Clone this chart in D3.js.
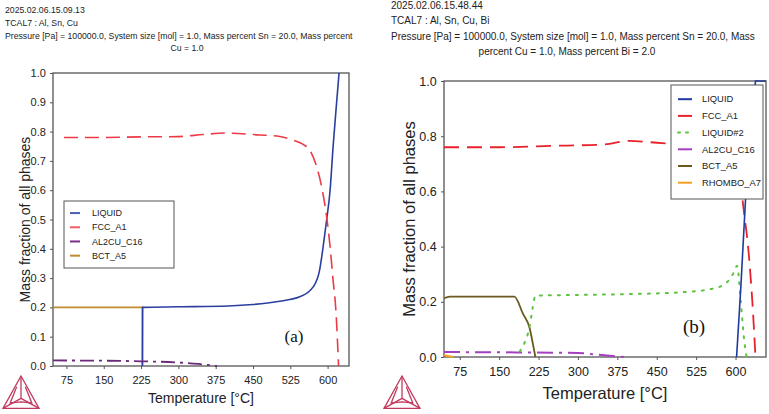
<!DOCTYPE html>
<html>
<head>
<meta charset="utf-8">
<script src="https://cdn.jsdelivr.net/npm/d3@7"></script>
<style>
body { margin:0; background:#fff; }
svg { font-family: Arial, "Liberation Sans", sans-serif; }
.axis path, .axis line { stroke:#555; }
.axis text { fill:#222; }
</style>
</head>
<body>
<svg id="chart" width="769" height="414"></svg>
<script>
/* DATA (a) : Al, Sn, Cu */
const ticksA_x = [75, 150, 225, 300, 375, 450, 525, 600];
const ticksA_y = [0, 0.1, 0.2, 0.3, 0.4, 0.5, 0.6, 0.7, 0.8, 0.9, 1.0];

const liqA_T = [227.6, 228, 300, 400, 450, 500, 544, 571, 584, 591, 598, 605, 611, 618, 623];
const liqA_f = [0, 0.2, 0.202, 0.205, 0.21, 0.22, 0.236, 0.27, 0.328, 0.407, 0.498, 0.6, 0.748, 0.897, 1.0];
const fccA_T = [70, 150, 225, 300, 350, 394, 450, 504, 531, 550, 564, 578, 588, 598, 605, 611, 617, 622];
const fccA_f = [0.78, 0.78, 0.782, 0.783, 0.79, 0.795, 0.79, 0.783, 0.771, 0.757, 0.737, 0.68, 0.612, 0.51, 0.407, 0.293, 0.18, 0];
const al2cuA_T = [48, 150, 225, 300, 340, 378];
const al2cuA_f = [0.019, 0.018, 0.016, 0.012, 0.007, 0];
const bctA_T = [48, 228, 228];
const bctA_f = [0.2, 0.2, 0];

/* DATA (b) : Al, Sn, Cu, Bi */
const ticksB_x = [75, 150, 225, 300, 375, 450, 525, 600];
const ticksB_y = [0, 0.2, 0.4, 0.6, 0.8, 1.0];

const liqB_T = [602, 610, 619, 630, 638, 658];
const liqB_f = [0, 0.25, 0.57, 0.85, 1.0, 1.0];
const fccB_T = [45, 150, 250, 350, 397, 460, 520, 570, 598, 606, 614, 625, 632, 638];
const fccB_f = [0.76, 0.76, 0.765, 0.77, 0.783, 0.775, 0.77, 0.768, 0.76, 0.7, 0.558, 0.377, 0.2, 0];
const liq2B_T = [189, 198, 208, 214, 219, 300, 400, 500, 550, 580, 595, 603, 610, 616, 621];
const liq2B_f = [0.02, 0.05, 0.11, 0.18, 0.222, 0.225, 0.228, 0.235, 0.245, 0.265, 0.3, 0.33, 0.2, 0.07, 0];
const al2cuB_T = [45, 150, 220, 300, 340, 388];
const al2cuB_f = [0.018, 0.017, 0.016, 0.0145, 0.008, 0];
const bctB_T = [45, 56, 179, 195, 208, 214, 219];
const bctB_f = [0.213, 0.219, 0.219, 0.158, 0.105, 0.05, 0];
const rhoB_T = [45, 55, 62];
const rhoB_f = [0.006, 0.003, 0];

const svg = d3.select("#chart");

/*PANELS
------------------------------------------------------
*/
const panels = [
  {
    x0: 53, x1: 349, y0: 366, y1: 73, dom: [48, 643],
    xt: ticksA_x, yt: ticksA_y, yfmt: d3.format(".1f"),
    tickFont: 11, labFont: 14, ylabX: 25, xlabY: 403,
    head: { x: 5, ys: [13, 26, 39, 51], size: 8.7,
      lines: ["2025.02.06.15.09.13", "TCAL7 : Al, Sn, Cu",
        "Pressure [Pa] = 100000.0, System size [mol] = 1.0, Mass percent Sn = 20.0, Mass percent"],
      last: "Cu = 1.0", lastX: 187 },
    series: [
      { T: liqA_T, f: liqA_f, c: "#2b3f9e", w: 1.6, dash: null, name: "LIQUID", lc: "#4a5fb5", curve: d3.curveMonotoneX },
      { T: fccA_T, f: fccA_f, c: "#ec3b47", w: 1.6, dash: "14,7", name: "FCC_A1", lc: "#f0606a", curve: d3.curveMonotoneX },
      { T: al2cuA_T, f: al2cuA_f, c: "#6b2a7a", w: 1.8, dash: "14,5,3,5", name: "AL2CU_C16", lc: "#7a2d8a", curve: d3.curveMonotoneX },
      { T: bctA_T, f: bctA_f, c: "#c08a30", w: 1.6, dash: null, name: "BCT_A5", lc: "#c08a30", curve: d3.curveLinear }
    ],
    order: [3, 0, 1, 2],
    legend: { x: 64, y: 201, w: 110, h: 67, step: 14.2, font: 9, l0: 70, l1: 80, tx: 92 },
    tag: { text: "(a)", x: 294, y: 342, size: 17 },
    logo: { x: 21, y: 376, s: 36 }
  },
  {
    x0: 444, x1: 766, y0: 357, y1: 81, dom: [45, 658],
    xt: ticksB_x, yt: ticksB_y, yfmt: d3.format(".1f"),
    tickFont: 12.5, labFont: 16.5, ylabX: 409, xlabY: 399,
    head: { x: 391, ys: [9, 24, 40, 55], size: 10,
      lines: ["2025.02.06.15.48.44", "TCAL7 : Al, Sn, Cu, Bi",
        "Pressure [Pa] = 100000.0, System size [mol] = 1.0, Mass percent Sn = 20.0, Mass"],
      last: "percent Cu = 1.0, Mass percent Bi = 2.0", lastX: 567 },
    series: [
      { T: liqB_T, f: liqB_f, c: "#1f3a9e", w: 1.6, dash: null, name: "LIQUID", lc: "#1f3a9e", curve: d3.curveLinear },
      { T: fccB_T, f: fccB_f, c: "#e8222c", w: 1.8, dash: "15,8", name: "FCC_A1", lc: "#e8222c", curve: d3.curveMonotoneX },
      { T: liq2B_T, f: liq2B_f, c: "#5cc43c", w: 2, dash: "2,7", name: "LIQUID#2", lc: "#5cc43c", curve: d3.curveMonotoneX },
      { T: al2cuB_T, f: al2cuB_f, c: "#a43fc0", w: 2, dash: "16,6,3,6", name: "AL2CU_C16", lc: "#a43fc0", curve: d3.curveMonotoneX },
      { T: bctB_T, f: bctB_f, c: "#6b5a1e", w: 1.8, dash: null, name: "BCT_A5", lc: "#6b5a1e", curve: d3.curveMonotoneX },
      { T: rhoB_T, f: rhoB_f, c: "#f5a020", w: 2, dash: null, name: "RHOMBO_A7", lc: "#f5a020", curve: d3.curveLinear }
    ],
    order: [5, 4, 3, 2, 1, 0],
    legend: { x: 671, y: 85, w: 92, h: 114, step: 16.7, font: 9.4, l0: 678, l1: 692, tx: 702 },
    tag: { text: "(b)", x: 694, y: 333, size: 19 },
    logo: { x: 402, y: 376, s: 36 }
  }
];

panels.forEach(function(p){
  const x = d3.scaleLinear().domain(p.dom).range([p.x0, p.x1]);
  const y = d3.scaleLinear().domain([0, 1]).range([p.y0, p.y1]);

  // header texts
  const h = svg.append("g").attr("font-size", p.head.size).attr("fill", "#222");
  p.head.lines.forEach(function(t, i){
    h.append("text").attr("x", p.head.x).attr("y", p.head.ys[i]).text(t);
  });
  h.append("text").attr("x", p.head.lastX).attr("y", p.head.ys[3])
    .attr("text-anchor", "middle").text(p.head.last);

  // axes
  svg.append("g").attr("class", "axis")
    .attr("transform", "translate(0," + p.y0 + ")")
    .call(d3.axisBottom(x).tickValues(p.xt).tickSize(3).tickSizeOuter(0))
    .call(g => g.select(".domain").remove())
    .selectAll("text").attr("font-size", p.tickFont).attr("dy", "1.05em");

  svg.append("g").attr("class", "axis")
    .attr("transform", "translate(" + p.x0 + ",0)")
    .call(d3.axisLeft(y).tickValues(p.yt).tickFormat(p.yfmt).tickSize(3).tickSizeOuter(0))
    .call(g => g.select(".domain").remove())
    .selectAll("text").attr("font-size", p.tickFont).attr("dx", "-0.1em");

  // frame
  svg.append("rect")
    .attr("x", p.x0).attr("y", p.y1)
    .attr("width", p.x1 - p.x0).attr("height", p.y0 - p.y1)
    .attr("fill", "none").attr("stroke", "#555").attr("stroke-width", 1.3);

  // labels
  svg.append("text")
    .attr("x", (p.x0 + p.x1) / 2).attr("y", p.xlabY)
    .attr("text-anchor", "middle").attr("font-size", p.labFont).attr("fill", "#222")
    .text("Temperature [°C]");
  svg.append("text")
    .attr("transform", "translate(" + p.ylabX + "," + ((p.y0 + p.y1) / 2) + ") rotate(-90)")
    .attr("text-anchor", "middle").attr("dy", "0.35em")
    .attr("font-size", p.labFont).attr("fill", "#222")
    .text("Mass fraction of all phases");

  // curves
  const clipId = "clip" + p.x0;
  svg.append("clipPath").attr("id", clipId).append("rect")
    .attr("x", p.x0).attr("y", p.y1 - 1)
    .attr("width", p.x1 - p.x0 + 1).attr("height", p.y0 - p.y1 + 2);

  const g = svg.append("g").attr("clip-path", "url(#" + clipId + ")");
  p.order.forEach(function(i){
    const s = p.series[i];
    const line = d3.line().x(d => x(d[0])).y(d => y(Math.max(0, d[1]))).curve(s.curve);
    g.append("path")
      .attr("d", line(d3.zip(s.T, s.f)))
      .attr("fill", "none").attr("stroke", s.c)
      .attr("stroke-width", s.w)
      .attr("stroke-linecap", s.dash === "2,7" ? "round" : "butt")
      .attr("stroke-dasharray", s.dash);
  });

  // legend
  const L = p.legend;
  const lg = svg.append("g");
  lg.append("rect").attr("x", L.x).attr("y", L.y).attr("width", L.w).attr("height", L.h)
    .attr("fill", "#fff").attr("stroke", "#555").attr("stroke-width", 1);
  p.series.forEach(function(s, i){
    const yy = L.y + L.step * (i + 0.85);
    lg.append("line").attr("x1", L.l0).attr("x2", L.l1).attr("y1", yy).attr("y2", yy)
      .attr("stroke", s.lc).attr("stroke-width", 2)
      .attr("stroke-dasharray", s.dash === "2,7" ? "2,6" : null)
      .attr("stroke-linecap", s.dash === "2,7" ? "round" : "butt");
    lg.append("text").attr("x", L.tx).attr("y", yy).attr("dy", "0.35em")
      .attr("font-size", L.font).attr("fill", "#222").text(s.name);
  });

  // panel tag
  svg.append("text").attr("x", p.tag.x).attr("y", p.tag.y)
    .attr("text-anchor", "middle")
    .attr("font-family", "'Liberation Serif', 'DejaVu Serif', serif")
    .attr("font-size", p.tag.size).attr("fill", "#111").text(p.tag.text);

  // logo (triangle)
  const s = p.logo.s, lx = p.logo.x, ly = p.logo.y;
  const A = [lx, ly], B = [lx - s / 2, ly + s * 0.9], C = [lx + s / 2, ly + s * 0.9];
  const M = [lx, ly + s * 0.62];
  const logo = svg.append("g").attr("fill", "none").attr("stroke", "#c23a5e").attr("stroke-width", 1.3);
  logo.append("path").attr("d", "M" + A + "L" + B + "L" + C + "Z");
  logo.append("path").attr("d", "M" + A + "L" + M + "M" + B + "L" + M + "M" + C + "L" + M);
  logo.append("path").attr("d",
    "M" + [lx - s * 0.12, ly + s * 0.3] + "L" + [lx - s * 0.3, ly + s * 0.75] + "L" + [lx, ly + s * 0.72] +
    "L" + [lx + s * 0.3, ly + s * 0.75] + "L" + [lx + s * 0.12, ly + s * 0.3]);
});
</script>
</body>
</html>
